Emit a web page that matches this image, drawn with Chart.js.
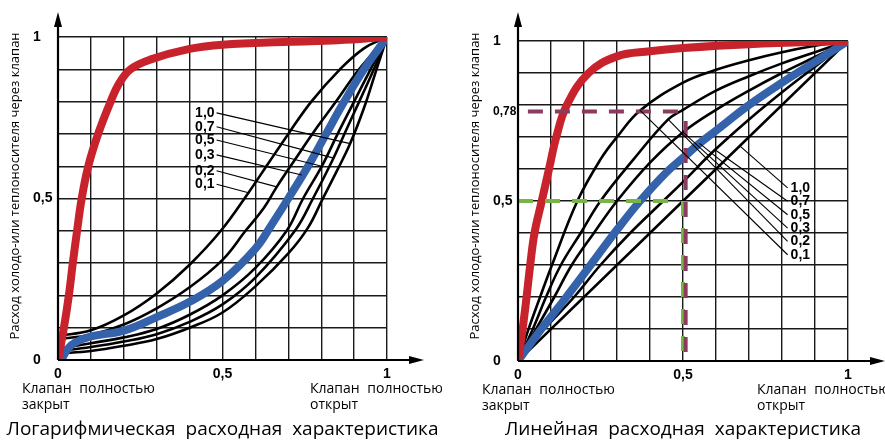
<!DOCTYPE html>
<html>
<head>
<meta charset="utf-8">
<script src="https://cdn.jsdelivr.net/npm/chart.js@4.4.1/dist/chart.umd.min.js"></script>
<style>
  body { margin: 0; background: #fff; width: 885px; height: 441px; position: relative; overflow: hidden; }
  canvas { position: absolute; top: 0; }
  #chart-log { left: 0; }
  #chart-lin { left: 443px; }
</style>
</head>
<body>
<canvas id="chart-log" width="442" height="441"></canvas>
<canvas id="chart-lin" width="442" height="441"></canvas>
<script>
// values: x = valve lift (0..1), y = relative flow (0..1)
const authorityLabels = ['1,0', '0,7', '0,5', '0,3', '0,2', '0,1'];

const xTickValues = [0, 0.5, 1];
const xTickText = ['0', '0,5', '1'];
const logYTickValues = [0, 0.5, 1];
const logYTickText = ['0', '0,5', '1'];
const linYTickValues = [0, 0.5, 0.78, 1];
const linYTickText = ['0', '0,5', '0,78', '1'];

// --- logarithmic (equal percentage) panel ---
const logRed = [[0,0],[0.018,0.1],[0.033,0.2],[0.045,0.3],[0.058,0.4],[0.072,0.5],[0.092,0.6],[0.122,0.7],[0.16,0.8],[0.185,0.855],[0.22,0.9],[0.28,0.93],[0.4,0.963],[0.5,0.976],[0.7,0.985],[0.85,0.99],[1,1]];
const logBlue = [[0.01,0],[0.03,0.035],[0.052,0.054],[0.1,0.073],[0.2,0.091],[0.3,0.133],[0.4,0.18],[0.5,0.245],[0.6,0.345],[0.65,0.42],[0.7,0.5],[0.76,0.6],[0.815,0.7],[0.87,0.8],[0.93,0.9],[1,1]];
const logA01 = [[0,0.075],[0.1,0.092],[0.2,0.138],[0.3,0.206],[0.4,0.295],[0.495,0.4],[0.579,0.518],[0.64,0.61],[0.7,0.7],[0.77,0.8],[0.857,0.9],[0.93,0.965],[1,1]];
const logA02 = [[0,0.065],[0.1,0.078],[0.2,0.11],[0.3,0.16],[0.4,0.225],[0.5,0.31],[0.57,0.4],[0.625,0.47],[0.665,0.536],[0.72,0.62],[0.78,0.71],[0.845,0.8],[0.915,0.9],[1,1]];
const logA05 = [[0,0.035],[0.1,0.052],[0.2,0.07],[0.3,0.096],[0.4,0.14],[0.5,0.2],[0.6,0.285],[0.695,0.4],[0.745,0.5],[0.802,0.6],[0.85,0.7],[0.9,0.8],[0.95,0.9],[1,1]];
const logA07 = [[0,0.027],[0.1,0.04],[0.2,0.057],[0.3,0.08],[0.4,0.118],[0.5,0.172],[0.6,0.255],[0.72,0.4],[0.775,0.5],[0.835,0.62],[0.875,0.71],[0.92,0.81],[0.96,0.9],[1,1]];
const logA10 = [[0,0.02],[0.1,0.028],[0.2,0.044],[0.3,0.065],[0.4,0.1],[0.5,0.147],[0.6,0.228],[0.7,0.33],[0.76,0.41],[0.805,0.5],[0.85,0.59],[0.888,0.67],[0.93,0.78],[0.965,0.89],[1,1]];
const logLeaderFrom = [[0.482,0.765],[0.482,0.722],[0.482,0.681],[0.482,0.635],[0.482,0.586],[0.482,0.544]];
const logLeaderTo = [[0.888,0.67],[0.838,0.625],[0.802,0.6],[0.741,0.573],[0.665,0.536],[0.579,0.518]];

// --- linear panel ---
const linRed = [[0,0],[0.014,0.1],[0.026,0.2],[0.037,0.3],[0.05,0.4],[0.072,0.5],[0.094,0.6],[0.116,0.7],[0.148,0.8],[0.214,0.9],[0.3,0.952],[0.4,0.968],[0.5,0.978],[0.7,0.99],[1,1]];
const linBlue = [[0,0],[0.067,0.095],[0.143,0.195],[0.22,0.3],[0.3,0.41],[0.37,0.5],[0.45,0.59],[0.5,0.635],[0.55,0.68],[0.6,0.72],[0.7,0.8],[0.8,0.87],[0.9,0.935],[1,1]];
const linA01 = [[0,0],[0.032,0.1],[0.067,0.2],[0.103,0.3],[0.18,0.5],[0.25,0.63],[0.3,0.7],[0.37,0.783],[0.5,0.87],[0.6,0.91],[0.7,0.94],[0.8,0.965],[0.9,0.985],[1,1]];
const linA02 = [[0,0],[0.045,0.1],[0.085,0.2],[0.13,0.3],[0.19,0.4],[0.25,0.5],[0.35,0.63],[0.455,0.755],[0.5,0.785],[0.6,0.845],[0.7,0.89],[0.8,0.93],[0.9,0.965],[1,1]];
const linA03 = [[0,0],[0.055,0.1],[0.11,0.2],[0.163,0.3],[0.23,0.4],[0.3,0.5],[0.4,0.62],[0.5,0.715],[0.6,0.785],[0.7,0.845],[0.8,0.9],[0.9,0.95],[1,1]];
const linA07 = [[0,0],[0.08,0.1],[0.17,0.2],[0.25,0.3],[0.34,0.4],[0.44,0.5],[0.5,0.56],[0.597,0.66],[0.7,0.755],[0.8,0.84],[0.9,0.92],[1,1]];
const linA10 = [[0,0],[1,1]];
const linLeaderFrom = [[0.817,0.541],[0.817,0.499],[0.817,0.457],[0.817,0.415],[0.817,0.374],[0.817,0.332]];
const linLeaderTo = [[0.672,0.672],[0.597,0.66],[0.55,0.68],[0.5,0.715],[0.455,0.755],[0.37,0.783]];
const guide78H = [[0.03,0.78],[0.5,0.78]];
const guide78V = [[0.508,0.75],[0.508,0]];
const guide50H = [[0,0.5],[0.48,0.5]];
const guide50V = [[0.5,0.5],[0.5,0]];

const RED = '#c8232c';
const BLUE = '#3563ab';
const PLUM = '#8b3a60';
const GREEN = '#79b546';

const pts = arr => arr.map(([x, y]) => ({x, y}));

function curve(data, color, width) {
    return { data: pts(data), borderColor: color, borderWidth: width, pointRadius: 0, tension: 0.4, fill: false, borderJoinStyle: 'round', borderCapStyle: 'round' };
}

function straight(data, color, width, dash) {
    return { data: pts(data), borderColor: color, borderWidth: width, pointRadius: 0, tension: 0, fill: false, borderDash: dash || [], borderCapStyle: 'butt' };
}

function leaders(from, to) {
    return from.map((p, i) => straight([p, to[i]], '#000', 1.1));
}

function tickLabel(v, vals, text) {
    const i = vals.findIndex(t => Math.abs(t - v) < 1e-6);
    return i < 0 ? '' : text[i];
}

const gridVals = [];
for (let i = 0; i <= 10; i++) gridVals.push(i / 10);
const onGrid = v => gridVals.some(g => Math.abs(g - v) < 1e-6);

function buildScales(yVals, yText) {
    const yGrid = gridVals.concat(yVals.filter(v => !onGrid(v))).sort((a, b) => a - b);
    const tickFont = { family: 'Liberation Sans', size: 14, weight: 'bold' };
    return {
        x: {
            type: 'linear', min: 0, max: 1,
            afterBuildTicks: s => { s.ticks = gridVals.map(v => ({value: v})); },
            afterFit: s => { s.height = 30; },
            grid: { color: '#1a1a1a', lineWidth: 1.4, drawTicks: false },
            border: { display: false },
            ticks: { autoSkip: false, maxRotation: 0, padding: 6, color: '#000', font: tickFont,
                     callback: v => tickLabel(v, xTickValues, xTickText) }
        },
        y: {
            type: 'linear', min: 0, max: 1,
            afterBuildTicks: s => { s.ticks = yGrid.map(v => ({value: v})); },
            afterFit: s => { s.width = 25; },
            grid: { lineWidth: 1.4, drawTicks: false,
                    color: c => (c.tick && onGrid(c.tick.value)) ? '#1a1a1a' : 'rgba(0,0,0,0)' },
            border: { display: false },
            ticks: { autoSkip: false, crossAlign: 'far', color: '#000',
                     font: c => (c.tick && !onGrid(c.tick.value)) ? { family: 'Liberation Sans', size: 12, weight: 'bold' } : tickFont,
                     callback: v => tickLabel(v, yVals, yText) }
        }
    };
}

// axes with arrows, authority labels, captions and titles
const decorPlugin = {
    id: 'decor',
    afterDraw(chart, args, opts) {
        const {ctx, chartArea: a, scales: {x, y}} = chart;
        ctx.save();
        ctx.strokeStyle = '#000';
        ctx.fillStyle = '#000';
        ctx.lineWidth = 2.2;
        ctx.beginPath();
        ctx.moveTo(a.left, a.bottom); ctx.lineTo(a.left, 22);
        ctx.moveTo(a.left, a.bottom); ctx.lineTo(a.right + 28, a.bottom);
        ctx.stroke();
        ctx.beginPath();
        ctx.moveTo(a.left, 12); ctx.lineTo(a.left - 4, 27); ctx.lineTo(a.left + 4, 27); ctx.closePath();
        ctx.moveTo(a.right + 37, a.bottom); ctx.lineTo(a.right + 22, a.bottom - 4); ctx.lineTo(a.right + 22, a.bottom + 4); ctx.closePath();
        ctx.fill();

        ctx.font = 'bold 14px "Liberation Sans"';
        ctx.textBaseline = 'middle';
        ctx.textAlign = opts.labelAlign;
        opts.leaderFrom.forEach((p, i) => {
            const px = x.getPixelForValue(p[0]) + (opts.labelAlign === 'right' ? -2 : 3);
            ctx.fillText(authorityLabels[i], px, y.getPixelForValue(p[1]));
        });

        ctx.font = '14px "Open Sans"';
        ctx.textAlign = 'left';
        ctx.wordSpacing = '4px';
        ctx.fillText('Клапан полностью', a.left - 36, a.bottom + 29);
        ctx.fillText('закрыт', a.left - 36, a.bottom + 45);
        ctx.fillText('Клапан полностью', a.right + opts.openOffset, a.bottom + 29);
        ctx.fillText('открыт', a.right + opts.openOffset, a.bottom + 45);

        ctx.font = '19px "Open Sans"';
        ctx.textAlign = 'center';
        ctx.wordSpacing = '5px';
        ctx.fillText(opts.title, (a.left + a.right) / 2, 430);

        ctx.font = '13px "Open Sans"';
        ctx.wordSpacing = '0px';
        ctx.translate(a.left - 43, 186);
        ctx.rotate(-Math.PI / 2);
        ctx.fillText('Расход холодо-или теплоносителя через клапан', 0, 0);
        ctx.restore();
    }
};

function makeChart(id, datasets, yVals, yText, padding, decor) {
    return new Chart(document.getElementById(id), {
        type: 'line',
        data: { datasets },
        options: {
            responsive: false, animation: false, devicePixelRatio: 1,
            layout: { padding },
            scales: buildScales(yVals, yText),
            plugins: { legend: { display: false }, tooltip: { enabled: false }, decor }
        },
        plugins: [decorPlugin]
    });
}

makeChart('chart-log', [
    ...leaders(logLeaderFrom, logLeaderTo),
    curve(logRed, RED, 8),
    curve(logBlue, BLUE, 8),
    curve(logA01, '#000', 2.6),
    curve(logA02, '#000', 2.6),
    curve(logA05, '#000', 2.6),
    curve(logA07, '#000', 2.6),
    curve(logA10, '#000', 2.6)
], logYTickValues, logYTickText, { left: 33, top: 37, right: 55, bottom: 51 },
   { labelAlign: 'right', leaderFrom: logLeaderFrom, openOffset: -77, title: 'Логарифмическая расходная характеристика' });

makeChart('chart-lin', [
    ...leaders(linLeaderFrom, linLeaderTo),
    straight(guide78H, PLUM, 4, [15, 12]),
    straight(guide78V, PLUM, 4, [15, 12]),
    straight(guide50H, GREEN, 4, [15, 12]),
    straight(guide50V, GREEN, 4, [15, 12]),
    curve(linRed, RED, 8),
    curve(linBlue, BLUE, 8),
    curve(linA01, '#000', 2.6),
    curve(linA02, '#000', 2.6),
    curve(linA03, '#000', 2.6),
    curve(linA07, '#000', 2.6),
    curve(linA10, '#000', 2.6)
], linYTickValues, linYTickText, { left: 50, top: 41, right: 37, bottom: 50 },
   { labelAlign: 'left', leaderFrom: linLeaderFrom, openOffset: -91, title: 'Линейная расходная характеристика' });
</script>
</body>
</html>
